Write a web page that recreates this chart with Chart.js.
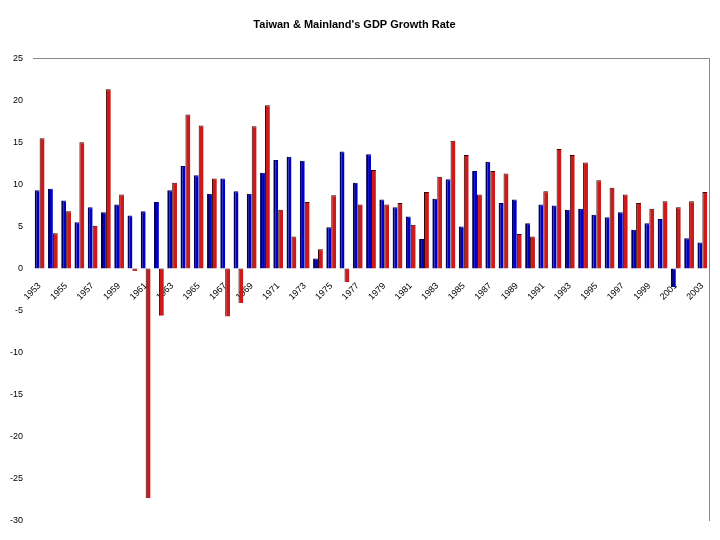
<!DOCTYPE html>
<html>
<head>
<meta charset="utf-8">
<title>Taiwan &amp; Mainland's GDP Growth Rate</title>
<script src="https://cdn.jsdelivr.net/npm/chart.js@4.4.1/dist/chart.umd.min.js"></script>
<style>
    html, body { margin: 0; padding: 0; background: #fff; }
    #chart { display: block; }
</style>
</head>
<body>
<canvas id="chart" width="720" height="540"></canvas>
<script>
// Categories (one per year)
const years = [
    '1953', '1954', '1955', '1956', '1957', '1958', '1959', '1960', '1961', '1962',
    '1963', '1964', '1965', '1966', '1967', '1968', '1969', '1970', '1971', '1972',
    '1973', '1974', '1975', '1976', '1977', '1978', '1979', '1980', '1981', '1982',
    '1983', '1984', '1985', '1986', '1987', '1988', '1989', '1990', '1991', '1992',
    '1993', '1994', '1995', '1996', '1997', '1998', '1999', '2000', '2001', '2002',
    '2003'
];

// GDP growth rate in %
const taiwanGrowth = [
    9.3, 9.5, 8.1, 5.5, 7.3, 6.7, 7.6, 6.3, 6.8, 7.9,
    9.3, 12.2, 11.1, 8.9, 10.7, 9.2, 8.9, 11.4, 12.9, 13.3,
    12.8, 1.2, 4.9, 13.9, 10.2, 13.6, 8.2, 7.3, 6.2, 3.5,
    8.3, 10.6, 5.0, 11.6, 12.7, 7.8, 8.2, 5.4, 7.6, 7.5,
    7.0, 7.1, 6.4, 6.1, 6.7, 4.6, 5.4, 5.9, -2.2, 3.6,
    3.1
];
const mainlandGrowth = [
    15.5, 4.2, 6.8, 15.0, 5.1, 21.3, 8.8, -0.3, -27.3, -5.6,
    10.2, 18.3, 17.0, 10.7, -5.7, -4.1, 16.9, 19.4, 7.0, 3.8,
    7.9, 2.3, 8.7, -1.6, 7.6, 11.7, 7.6, 7.8, 5.2, 9.1,
    10.9, 15.2, 13.5, 8.8, 11.6, 11.3, 4.1, 3.8, 9.2, 14.2,
    13.5, 12.6, 10.5, 9.6, 8.8, 7.8, 7.1, 8.0, 7.3, 8.0,
    9.1
];

// Value axis range
const yMin = -30;
const yMax = 25;
const yStep = 5;

// Plot area frame (top and right edges only, like the original)
const plotFrame = {
    id: 'plotFrame',
    afterDatasetsDraw(chart) {
        let area = chart.chartArea;
        let ctx = chart.ctx;
        ctx.save();
        ctx.strokeStyle = '#888888';
        ctx.lineWidth = 1;
        ctx.beginPath();
        ctx.moveTo(area.left, Math.round(area.top) + 0.5);
        ctx.lineTo(Math.round(area.right) + 0.5, Math.round(area.top) + 0.5);
        ctx.lineTo(Math.round(area.right) + 0.5, area.bottom);
        ctx.stroke();
        ctx.restore();
    }
};

new Chart(document.getElementById('chart'), {
    type: 'bar',
    data: {
        labels: years,
        datasets: [
            {
                label: 'Taiwan',
                data: taiwanGrowth,
                backgroundColor: '#0000c4',
                borderColor: '#000058',
                borderWidth: { left: 2, top: 1, right: 0, bottom: 0 },
                borderSkipped: false
            },
            {
                label: 'Mainland',
                data: mainlandGrowth,
                backgroundColor: '#cc1a1a',
                borderColor: '#380000',
                borderWidth: { left: 1, top: 1, right: 0, bottom: 0 },
                borderSkipped: false
            }
        ]
    },
    options: {
        responsive: false,
        devicePixelRatio: 1,
        animation: false,
        categoryPercentage: 0.74,
        barPercentage: 1.0,
        layout: {
            padding: { left: 0, right: 11, top: 0, bottom: 19 }
        },
        plugins: {
            legend: { display: false },
            tooltip: { enabled: false },
            title: {
                display: true,
                text: "Taiwan & Mainland's GDP Growth Rate",
                color: '#000000',
                font: { family: 'Arial, "Liberation Sans", sans-serif', size: 11, weight: 'bold' },
                padding: { top: 18, bottom: 27 }
            }
        },
        scales: {
            x: {
                position: { y: 0 },
                grid: { display: false },
                border: { display: false },
                ticks: {
                    autoSkip: false,
                    minRotation: 45,
                    maxRotation: 45,
                    padding: 4,
                    color: '#000000',
                    font: { family: 'Arial, "Liberation Sans", sans-serif', size: 9 },
                    // only every second year gets a label
                    callback: function (value, index) {
                        return index % 2 === 0 ? this.getLabelForValue(value) : '';
                    }
                }
            },
            y: {
                min: yMin,
                max: yMax,
                grid: { display: false },
                border: { display: false },
                afterFit: function (scale) {
                    scale.width = 33;
                },
                ticks: {
                    stepSize: yStep,
                    padding: 2,
                    color: '#000000',
                    font: { family: 'Arial, "Liberation Sans", sans-serif', size: 9 }
                }
            }
        }
    },
    plugins: [plotFrame]
});
</script>
</body>
</html>
